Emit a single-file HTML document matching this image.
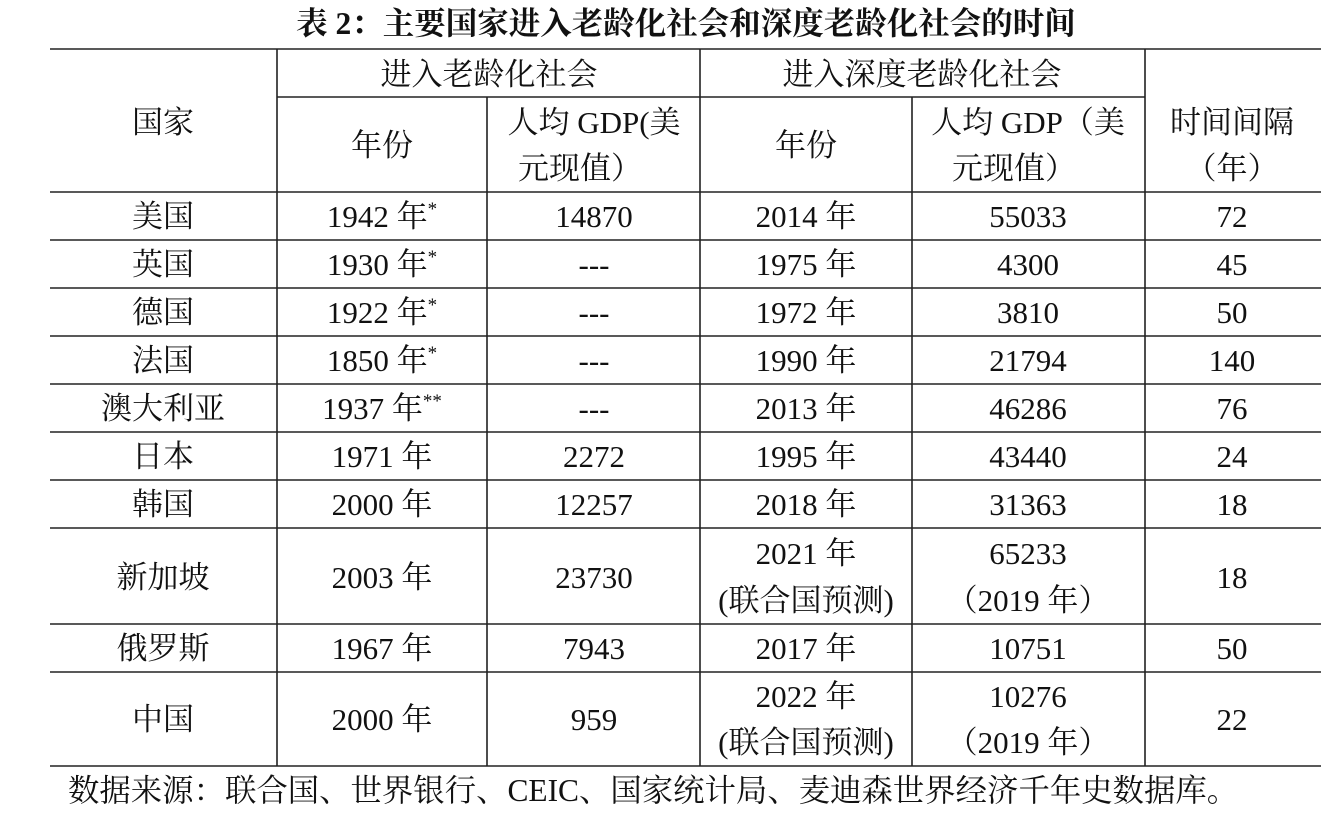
<!DOCTYPE html>
<html><head><meta charset="utf-8"><style>
html,body{margin:0;padding:0;background:#fff;}
svg{display:block;}
text{font-family:"Liberation Serif","Noto Serif CJK SC",serif;font-size:31px;fill:#111;}
.t{font-weight:bold;font-size:31.5px;}
</style></head><body>
<svg width="1335" height="818" xmlns="http://www.w3.org/2000/svg">
<text class="t" x="686" y="34" text-anchor="middle">表 2：主要国家进入老龄化社会和深度老龄化社会的时间</text>
<g stroke="#222" stroke-width="1.6">
<line x1="50" y1="49" x2="1321" y2="49"/>
<line x1="277" y1="97" x2="1145" y2="97"/>
<line x1="50" y1="192" x2="1321" y2="192"/>
<line x1="50" y1="240" x2="1321" y2="240"/>
<line x1="50" y1="288" x2="1321" y2="288"/>
<line x1="50" y1="336" x2="1321" y2="336"/>
<line x1="50" y1="384" x2="1321" y2="384"/>
<line x1="50" y1="432" x2="1321" y2="432"/>
<line x1="50" y1="480" x2="1321" y2="480"/>
<line x1="50" y1="528" x2="1321" y2="528"/>
<line x1="50" y1="624" x2="1321" y2="624"/>
<line x1="50" y1="672" x2="1321" y2="672"/>
<line x1="50" y1="766" x2="1321" y2="766"/>
<line x1="277" y1="49" x2="277" y2="766"/>
<line x1="700" y1="49" x2="700" y2="766"/>
<line x1="1145" y1="49" x2="1145" y2="766"/>
<line x1="487" y1="97" x2="487" y2="766"/>
<line x1="912" y1="97" x2="912" y2="766"/>
</g>
<g text-anchor="middle">
<text x="489" y="85">进入老龄化社会</text>
<text x="922" y="85">进入深度老龄化社会</text>
<text x="163" y="133">国家</text>
<text x="382" y="156">年份</text>
<text x="594" y="133">人均 GDP(美</text>
<text x="580" y="179">元现值）</text>
<text x="806" y="156">年份</text>
<text x="1028" y="133">人均 GDP（美</text>
<text x="1014" y="179">元现值）</text>
<text x="1232" y="133">时间间隔</text>
<text x="1232" y="179">（年）</text>

<text x="163" y="227">美国</text><text x="382" y="227">1942 年<tspan font-size="19" dy="-12">*</tspan></text><text x="594" y="227">14870</text><text x="806" y="227">2014 年</text><text x="1028" y="227">55033</text><text x="1232" y="227">72</text>
<text x="163" y="275">英国</text><text x="382" y="275">1930 年<tspan font-size="19" dy="-12">*</tspan></text><text x="594" y="275">---</text><text x="806" y="275">1975 年</text><text x="1028" y="275">4300</text><text x="1232" y="275">45</text>
<text x="163" y="323">德国</text><text x="382" y="323">1922 年<tspan font-size="19" dy="-12">*</tspan></text><text x="594" y="323">---</text><text x="806" y="323">1972 年</text><text x="1028" y="323">3810</text><text x="1232" y="323">50</text>
<text x="163" y="371">法国</text><text x="382" y="371">1850 年<tspan font-size="19" dy="-12">*</tspan></text><text x="594" y="371">---</text><text x="806" y="371">1990 年</text><text x="1028" y="371">21794</text><text x="1232" y="371">140</text>
<text x="163" y="419">澳大利亚</text><text x="382" y="419">1937 年<tspan font-size="19" dy="-12">**</tspan></text><text x="594" y="419">---</text><text x="806" y="419">2013 年</text><text x="1028" y="419">46286</text><text x="1232" y="419">76</text>
<text x="163" y="467">日本</text><text x="382" y="467">1971 年</text><text x="594" y="467">2272</text><text x="806" y="467">1995 年</text><text x="1028" y="467">43440</text><text x="1232" y="467">24</text>
<text x="163" y="515">韩国</text><text x="382" y="515">2000 年</text><text x="594" y="515">12257</text><text x="806" y="515">2018 年</text><text x="1028" y="515">31363</text><text x="1232" y="515">18</text>
<text x="163" y="588">新加坡</text><text x="382" y="588">2003 年</text><text x="594" y="588">23730</text><text x="806" y="564">2021 年</text><text x="806" y="611">(联合国预测)</text><text x="1028" y="564">65233</text><text x="1028" y="611">（2019 年）</text><text x="1232" y="588">18</text>
<text x="163" y="659">俄罗斯</text><text x="382" y="659">1967 年</text><text x="594" y="659">7943</text><text x="806" y="659">2017 年</text><text x="1028" y="659">10751</text><text x="1232" y="659">50</text>
<text x="163" y="730">中国</text><text x="382" y="730">2000 年</text><text x="594" y="730">959</text><text x="806" y="707">2022 年</text><text x="806" y="753">(联合国预测)</text><text x="1028" y="707">10276</text><text x="1028" y="753">（2019 年）</text><text x="1232" y="730">22</text>
</g>
<text x="68" y="801" style="font-size:31.4px">数据来源：联合国、世界银行、CEIC、国家统计局、麦迪森世界经济千年史数据库。</text>
</svg>
</body></html>
